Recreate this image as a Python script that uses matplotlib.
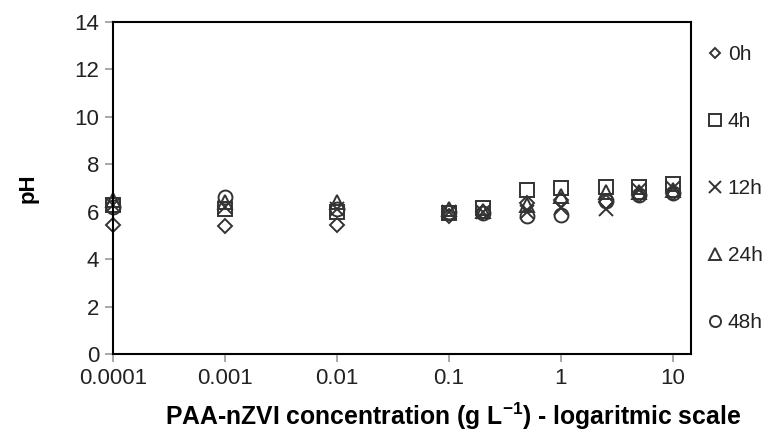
import matplotlib
matplotlib.use("Agg")
import matplotlib.pyplot as plt
from matplotlib.ticker import FixedLocator, FixedFormatter, NullLocator

plt.rcParams['font.family'] = ['Liberation Sans', 'DejaVu Sans']
plt.rcParams['mathtext.fontset'] = 'custom'
plt.rcParams['mathtext.rm'] = 'Liberation Sans:bold'
plt.rcParams['mathtext.default'] = 'rm'

# concentrations (g/L)
conc = [0.0001, 0.001, 0.01, 0.1, 0.2, 0.5, 1, 2.5, 5, 10]

# pH
ph_0h = [5.45, 5.40, 5.45, 5.80, 6.00, 6.35, 6.50, 6.40, 6.70, 6.80]
ph_4h = [6.30, 6.10, 6.00, 5.95, 6.15, 6.92, 7.00, 7.05, 7.05, 7.15]
ph_12h = [6.30, 6.20, 6.10, 6.00, 6.00, 6.00, 6.15, 6.10, 6.90, 7.00]
ph_24h = [6.50, 6.40, 6.40, 6.10, 6.05, 6.30, 6.65, 6.85, 6.85, 6.90]
ph_48h = [6.20, 6.60, 6.10, 6.00, 5.95, 5.80, 5.85, 6.45, 6.70, 6.80]

series = [("0h", ph_0h, "D", 7), ("4h", ph_4h, "s", 10),
          ("12h", ph_12h, "x", 10), ("24h", ph_24h, "^", 10),
          ("48h", ph_48h, "o", 10)]

xticks = [0.0001, 0.001, 0.01, 0.1, 1, 10]
xticklabels = ["0.0001", "0.001", "0.01", "0.1", "1", "10"]
yticks = [0, 2, 4, 6, 8, 10, 12, 14]

fig = plt.figure(figsize=(7.81, 4.32), dpi=100)
ax = fig.add_axes([0.1447, 0.1806, 0.7401, 0.7684])

for label, vals, mk, ms in series:
    ax.plot(conc, vals, linestyle="none", marker=mk, markersize=ms,
            markerfacecolor="none", markeredgecolor="#333333",
            markeredgewidth=1.4, label=label, clip_on=False)

ax.set_xscale("log")
ax.set_xlim(1e-4, 14.5)
ax.set_ylim(0, 14)
ax.xaxis.set_major_locator(FixedLocator(xticks))
ax.xaxis.set_major_formatter(FixedFormatter(xticklabels))
ax.xaxis.set_minor_locator(NullLocator())
ax.set_yticks(yticks)

for sp in ax.spines.values():
    sp.set_color("black")
    sp.set_linewidth(1.5)
ax.tick_params(axis="both", direction="out", length=6, width=1.2,
               color="#999999", labelsize=16, labelcolor="#222222", pad=4)

ax.set_xlabel("PAA-nZVI concentration (g L$^{-1}$) - logaritmic scale",
              fontsize=17.8, fontweight="bold")
ax.xaxis.set_label_coords(0.588, -0.14)
ax.set_ylabel("pH", fontsize=16, fontweight="bold", labelpad=26)

leg = ax.legend(loc="upper left", bbox_to_anchor=(1.015, 0.955), frameon=False,
                fontsize=15, labelspacing=2.3, handlelength=0.7,
                handletextpad=0.25, markerscale=0.8, borderaxespad=0)
for t in leg.get_texts():
    t.set_color("#222222")

fig.savefig("out.png", dpi=100)
